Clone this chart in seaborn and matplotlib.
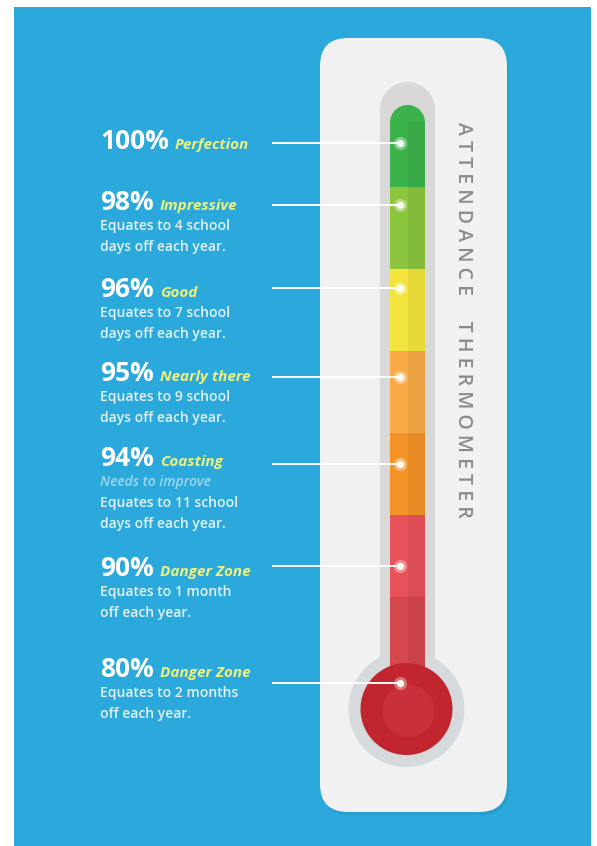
import matplotlib
matplotlib.use("Agg")
import matplotlib.pyplot as plt
import matplotlib.patches as mpatches
import seaborn as sns

# ---- chart content ----
levels = ["100%", "98%", "96%", "95%", "94%", "90%", "80%"]
names = ["Perfection", "Impressive", "Good", "Nearly there",
         "Coasting", "Danger Zone", "Danger Zone"]
notes = [
    [],
    ["Equates to 4 school", "days off each year."],
    ["Equates to 7 school", "days off each year."],
    ["Equates to 9 school", "days off each year."],
    ["Needs to improve", "Equates to 11 school", "days off each year."],
    ["Equates to 1 month", "off each year."],
    ["Equates to 2 months", "off each year."],
]
segment_colors = ["#3bb34a", "#8cc63f", "#f2e43c", "#f9aa47",
                  "#f39325", "#e8525a", "#d4474c"]
title = "ATTENDANCE THERMOMETER"

# ---- layout (pixels) ----
W, H = 597, 846
header_base = [149, 210, 297, 381, 466, 576, 677]
pointer_y = [143, 205, 288, 377, 464, 566, 683]
text_x = 100
line_x0, dot_x = 272, 400
tube_x, tube_w, tube_top, seg_h = 407.5, 35, 105, 82
bulb_x, bulb_y = 406.5, 709

sns.set_theme(style="white")
plt.rcParams['font.family'] = ['Open Sans', 'DejaVu Sans']

fig = plt.figure(figsize=(W / 100, H / 100), dpi=100)
ax = fig.add_axes([0, 0, 1, 1])
ax.set_xlim(0, W)
ax.set_ylim(H, 0)
ax.axis('off')

# blue background
ax.add_patch(mpatches.Rectangle((14, 7), 577, 839, color='#2ba9dc',
                                lw=0, zorder=0))

# card with faint shadow
ax.add_patch(mpatches.FancyBboxPatch((322, 41), 187, 774,
             boxstyle="round,pad=0,rounding_size=28",
             fc='#2395c6', ec='none', zorder=1, alpha=0.5))
ax.add_patch(mpatches.FancyBboxPatch((320, 38), 187, 774,
             boxstyle="round,pad=0,rounding_size=28",
             fc='#f1f1f1', ec='none', zorder=1))

# grey track
track_w = 55
track_c = '#d8d8d8'
ax.add_patch(mpatches.Circle((tube_x, 82 + track_w / 2), track_w / 2,
                             fc=track_c, ec='none', zorder=2))
ax.bar(tube_x, bulb_y - (82 + track_w / 2), bottom=82 + track_w / 2,
       width=track_w, color=track_c, linewidth=0, zorder=2)
ax.add_patch(mpatches.Circle((bulb_x, bulb_y), 58, fc='#d6dadc', ec='none',
                             zorder=2))

# coloured tube segments
ax.add_patch(mpatches.Circle((tube_x, tube_top + tube_w / 2), tube_w / 2,
                             fc=segment_colors[0], ec='none', zorder=3))
for i, c in enumerate(segment_colors):
    bottom = tube_top + i * seg_h
    h = seg_h
    if i == 0:
        bottom += tube_w / 2
        h -= tube_w / 2
    ax.bar(tube_x, h, bottom=bottom, width=tube_w, color=c, zorder=3,
           linewidth=0)
# subtle shading on right half
ax.bar(tube_x + tube_w / 4, len(segment_colors) * seg_h - tube_w / 2,
       bottom=tube_top + tube_w / 2, width=tube_w / 2, color='black',
       alpha=0.05, zorder=3, linewidth=0)

# bulb
ax.add_patch(mpatches.Circle((bulb_x, bulb_y), 46, fc='#c1252d', ec='none',
                             zorder=4))
ax.add_patch(mpatches.Circle((bulb_x + 2, bulb_y + 2), 26, fc='#c9313a',
                             ec='none', zorder=4))

# connectors and pointer dots
ax.hlines(pointer_y, line_x0, dot_x, color='white', lw=1.4, zorder=5)
sns.scatterplot(x=[dot_x] * len(levels), y=pointer_y, s=90, color='white',
                alpha=0.35, linewidth=0, ax=ax, zorder=6, legend=False)
sns.scatterplot(x=[dot_x] * len(levels), y=pointer_y, s=28, color='#f6fff2',
                linewidth=0, ax=ax, zorder=6, legend=False)

# labels
fig.canvas.draw()
renderer = fig.canvas.get_renderer()
inv = ax.transData.inverted()
for lvl, name, lines, yb in zip(levels, names, notes, header_base):
    t = ax.text(text_x, yb, lvl, fontsize=19, fontweight='bold',
                color='white', va='baseline', ha='left', zorder=7)
    bb = t.get_window_extent(renderer)
    x_end = inv.transform((bb.x1, 0))[0]
    ax.text(x_end + 6, yb, name, fontsize=11, fontweight='bold',
            style='italic', color='#eef17a', va='baseline', ha='left',
            zorder=7)
    for j, line in enumerate(lines):
        italic = line.startswith("Needs")
        ax.text(text_x, yb + 16 + 21 * j, line, fontsize=10,
                fontweight='semibold',
                style='italic' if italic else 'normal',
                color='#9fd8f0' if italic else '#e3f3fb',
                va='center', ha='left', zorder=7)

# vertical title
spaced = "  ".join(title.split(" "))
spaced = " ".join(spaced)
ax.text(463, 320, spaced, rotation=-90, ha='center', va='center',
        fontsize=14, fontweight='semibold', color='#8a8a8a', zorder=7)

fig.savefig("out.png", dpi=100, facecolor='white')
